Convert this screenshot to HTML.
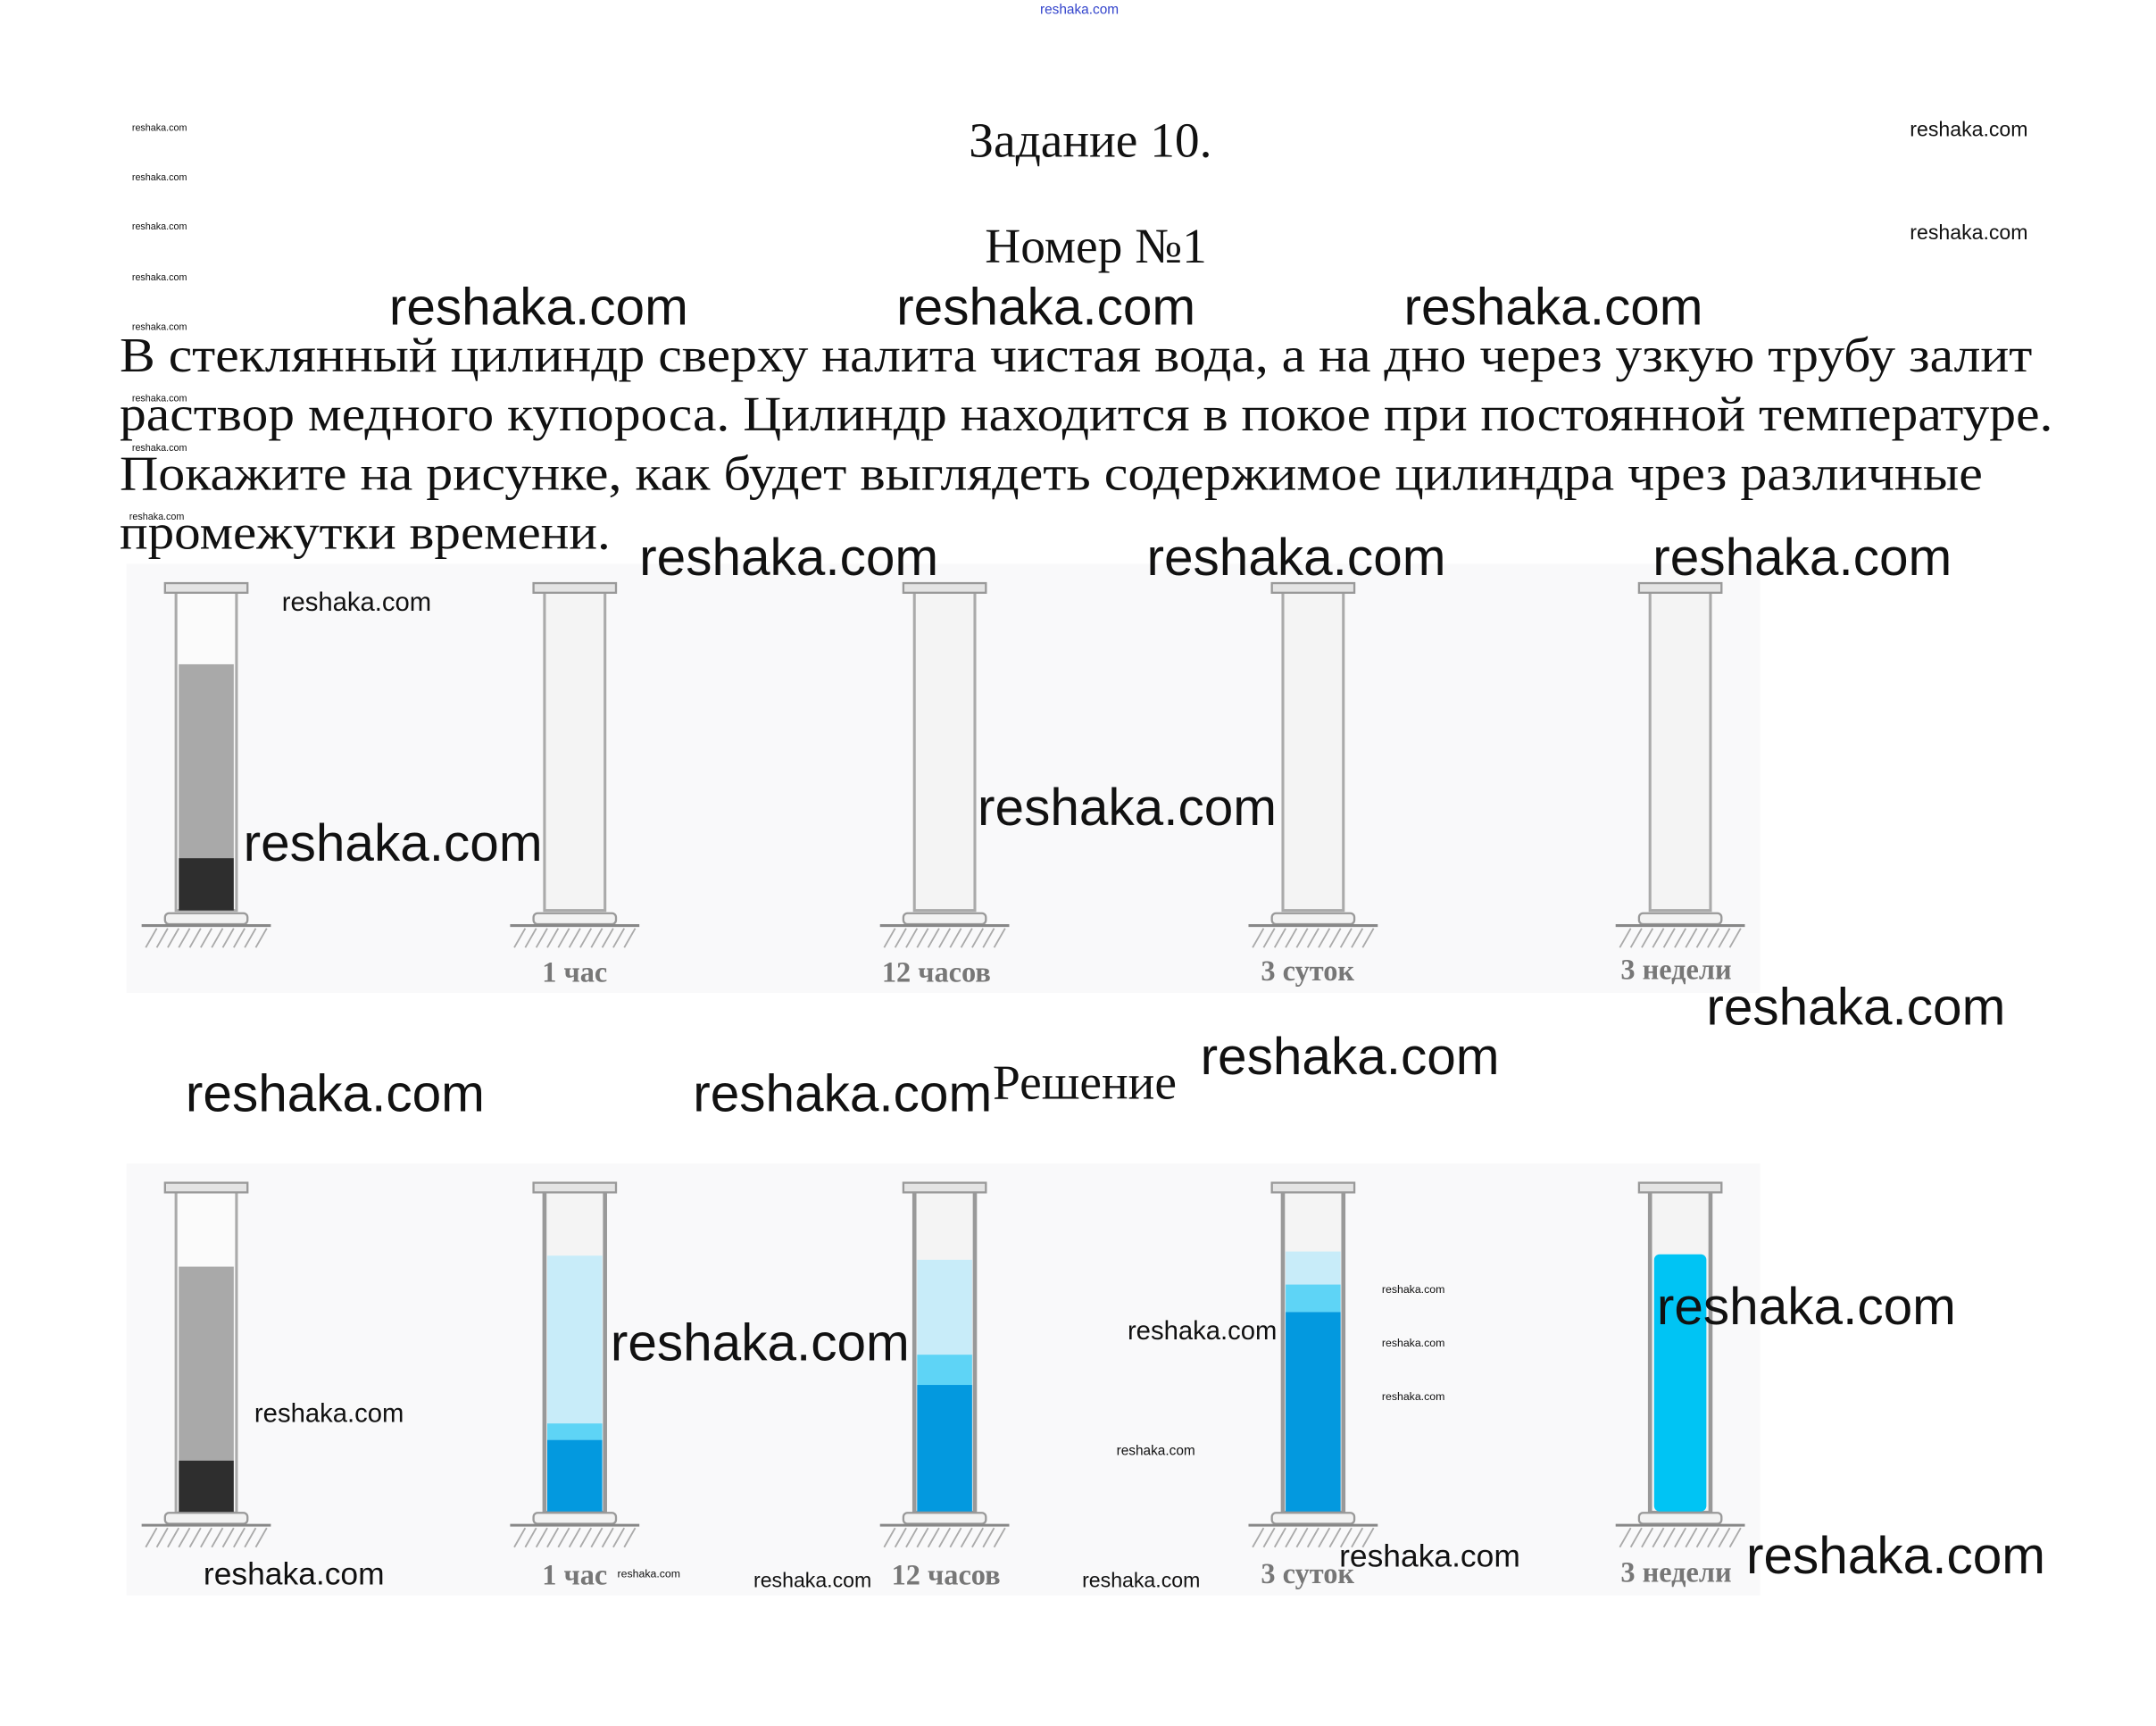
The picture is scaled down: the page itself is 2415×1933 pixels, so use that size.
<!DOCTYPE html>
<html><head><meta charset="utf-8"><style>
html,body{margin:0;padding:0;background:#fff;width:2415px;height:1933px;overflow:hidden}
svg{display:block}
.s{font-family:"Liberation Serif",serif;fill:#111}
.w{font-family:"Liberation Sans",sans-serif;fill:#111}
.lb{font-family:"Liberation Serif",serif;fill:#777;font-weight:bold;font-size:21px}
</style></head><body>
<svg width="2415" height="1933" viewBox="0 0 1568 1255" preserveAspectRatio="none" xmlns="http://www.w3.org/2000/svg">
<defs>
<g id="base">
 <rect x="-30" y="-6" width="60" height="7" fill="#e4e4e4" stroke="#999" stroke-width="1.5"/>
 <rect x="-30" y="234" width="60" height="8" rx="3" fill="#f2f2f2" stroke="#999" stroke-width="1.5"/>
 <line x1="-47" y1="243" x2="47" y2="243" stroke="#888" stroke-width="2"/>
 <g stroke="#aaa" stroke-width="1.2">
  <line x1="-44" y1="259" x2="-36" y2="245"/><line x1="-36" y1="259" x2="-28" y2="245"/><line x1="-28" y1="259" x2="-20" y2="245"/><line x1="-20" y1="259" x2="-12" y2="245"/><line x1="-12" y1="259" x2="-4" y2="245"/><line x1="-4" y1="259" x2="4" y2="245"/><line x1="4" y1="259" x2="12" y2="245"/><line x1="12" y1="259" x2="20" y2="245"/><line x1="20" y1="259" x2="28" y2="245"/><line x1="28" y1="259" x2="36" y2="245"/><line x1="36" y1="259" x2="44" y2="245"/>
 </g>
</g>
</defs>

<text x="785" y="10" font-size="10" fill="#3344cc" font-family="Liberation Sans,sans-serif" text-anchor="middle">reshaka.com</text>
<text class="s" x="793" y="114" font-size="36" text-anchor="middle">Задание 10.</text>
<text class="s" x="797" y="191" font-size="36" text-anchor="middle">Номер №1</text>

<g class="w" font-size="7">
<text x="96" y="95">reshaka.com</text><text x="96" y="131">reshaka.com</text><text x="96" y="167">reshaka.com</text><text x="96" y="204">reshaka.com</text><text x="96" y="240">reshaka.com</text><text x="96" y="292">reshaka.com</text><text x="96" y="328">reshaka.com</text><text x="94" y="378">reshaka.com</text><text x="94" y="443">reshaka.com</text>
</g>
<g class="w" font-size="15"><text x="1389" y="99">reshaka.com</text><text x="1389" y="174">reshaka.com</text></g>

<g class="s" font-size="36">
<text x="87" y="270" textLength="1391" lengthAdjust="spacingAndGlyphs">В стеклянный цилиндр сверху налита чистая вода, а на дно через узкую трубу залит</text>
<text x="87" y="313" textLength="1406" lengthAdjust="spacingAndGlyphs">раствор медного купороса. Цилиндр находится в покое при постоянной температуре.</text>
<text x="87" y="356" textLength="1355" lengthAdjust="spacingAndGlyphs">Покажите на рисунке, как будет выглядеть содержимое цилиндра чрез различные</text>
<text x="87" y="399" textLength="357" lengthAdjust="spacingAndGlyphs">промежутки времени.</text>
</g>

<rect x="92" y="410" width="1188" height="312" fill="#f9f9fa"/>
<g>
 <rect x="128" y="430" width="44" height="232" fill="#fbfbfb" stroke="#aaa" stroke-width="2"/>
 <rect x="130" y="483" width="40" height="141" fill="#a9a9a9"/><rect x="130" y="624" width="40" height="38" fill="#2e2e2e"/>
 <use href="#base" x="150" y="430"/>
 <rect x="396" y="430" width="44" height="232" fill="#f4f4f4" stroke="#aaa" stroke-width="2"/><use href="#base" x="418" y="430"/>
 <rect x="665" y="430" width="44" height="232" fill="#f4f4f4" stroke="#aaa" stroke-width="2"/><use href="#base" x="687" y="430"/>
 <rect x="933" y="430" width="44" height="232" fill="#f4f4f4" stroke="#aaa" stroke-width="2"/><use href="#base" x="955" y="430"/>
 <rect x="1200" y="430" width="44" height="232" fill="#f4f4f4" stroke="#aaa" stroke-width="2"/><use href="#base" x="1222" y="430"/>
</g>
<g class="lb" text-anchor="middle"><text x="418" y="714">1 час</text><text x="681" y="714">12 часов</text><text x="951" y="713">3 суток</text><text x="1219" y="712">3 недели</text></g>

<rect x="92" y="846" width="1188" height="314" fill="#f9f9fa"/>
<g>
 <rect x="128" y="866" width="44" height="234" fill="#fbfbfb" stroke="#aaa" stroke-width="2"/>
 <rect x="130" y="921" width="40" height="141" fill="#a9a9a9"/><rect x="130" y="1062" width="40" height="38" fill="#2e2e2e"/>
 <use href="#base" x="150" y="866"/>
 <rect x="396" y="866" width="44" height="234" fill="#f4f4f4" stroke="#999" stroke-width="3"/>
 <rect x="398" y="913" width="40" height="122" fill="#c8ecf9"/><rect x="398" y="1035" width="40" height="12" fill="#5ed4f6"/><rect x="398" y="1047" width="40" height="52" fill="#0399df"/>
 <use href="#base" x="418" y="866"/>
 <rect x="665" y="866" width="44" height="234" fill="#f4f4f4" stroke="#999" stroke-width="3"/>
 <rect x="667" y="916" width="40" height="69" fill="#c8ecf9"/><rect x="667" y="985" width="40" height="22" fill="#5ed4f6"/><rect x="667" y="1007" width="40" height="92" fill="#0399df"/>
 <use href="#base" x="687" y="866"/>
 <rect x="933" y="866" width="44" height="234" fill="#f4f4f4" stroke="#999" stroke-width="3"/>
 <rect x="935" y="910" width="40" height="24" fill="#c8ecf9"/><rect x="935" y="934" width="40" height="20" fill="#5ed4f6"/><rect x="935" y="954" width="40" height="145" fill="#0399df"/>
 <use href="#base" x="955" y="866"/>
 <rect x="1200" y="866" width="44" height="234" fill="#f4f4f4" stroke="#999" stroke-width="3"/>
 <rect x="1203" y="912" width="38" height="187" rx="4" fill="#00c4f4"/>
 <use href="#base" x="1222" y="866"/>
</g>
<g class="lb" text-anchor="middle"><text x="418" y="1152">1 час</text><text x="688" y="1152">12 часов</text><text x="951" y="1151">3 суток</text><text x="1219" y="1150">3 недели</text></g>

<text class="s" x="722" y="799" font-size="36">Решение</text>

<g class="w" font-size="38">
<text x="283" y="236">reshaka.com</text><text x="652" y="236">reshaka.com</text><text x="1021" y="236">reshaka.com</text>
<text x="465" y="418">reshaka.com</text><text x="834" y="418">reshaka.com</text><text x="1202" y="418">reshaka.com</text>
<text x="177" y="626">reshaka.com</text><text x="711" y="600">reshaka.com</text><text x="1241" y="745">reshaka.com</text>
<text x="135" y="808">reshaka.com</text><text x="504" y="808">reshaka.com</text><text x="873" y="781">reshaka.com</text>
<text x="444" y="989">reshaka.com</text><text x="1205" y="963">reshaka.com</text><text x="1270" y="1144">reshaka.com</text>
</g>
<g class="w" font-size="19">
<text x="205" y="444">reshaka.com</text><text x="185" y="1034">reshaka.com</text><text x="820" y="974">reshaka.com</text>
</g>
<g class="w" font-size="23"><text x="148" y="1152">reshaka.com</text><text x="974" y="1139">reshaka.com</text></g>
<g class="w" font-size="15"><text x="548" y="1154">reshaka.com</text><text x="787" y="1154">reshaka.com</text></g>
<g class="w" font-size="10"><text x="812" y="1058">reshaka.com</text></g>
<g class="w" font-size="8"><text x="1005" y="940">reshaka.com</text><text x="1005" y="979">reshaka.com</text><text x="1005" y="1018">reshaka.com</text><text x="449" y="1147">reshaka.com</text></g>
</svg>
</body></html>
